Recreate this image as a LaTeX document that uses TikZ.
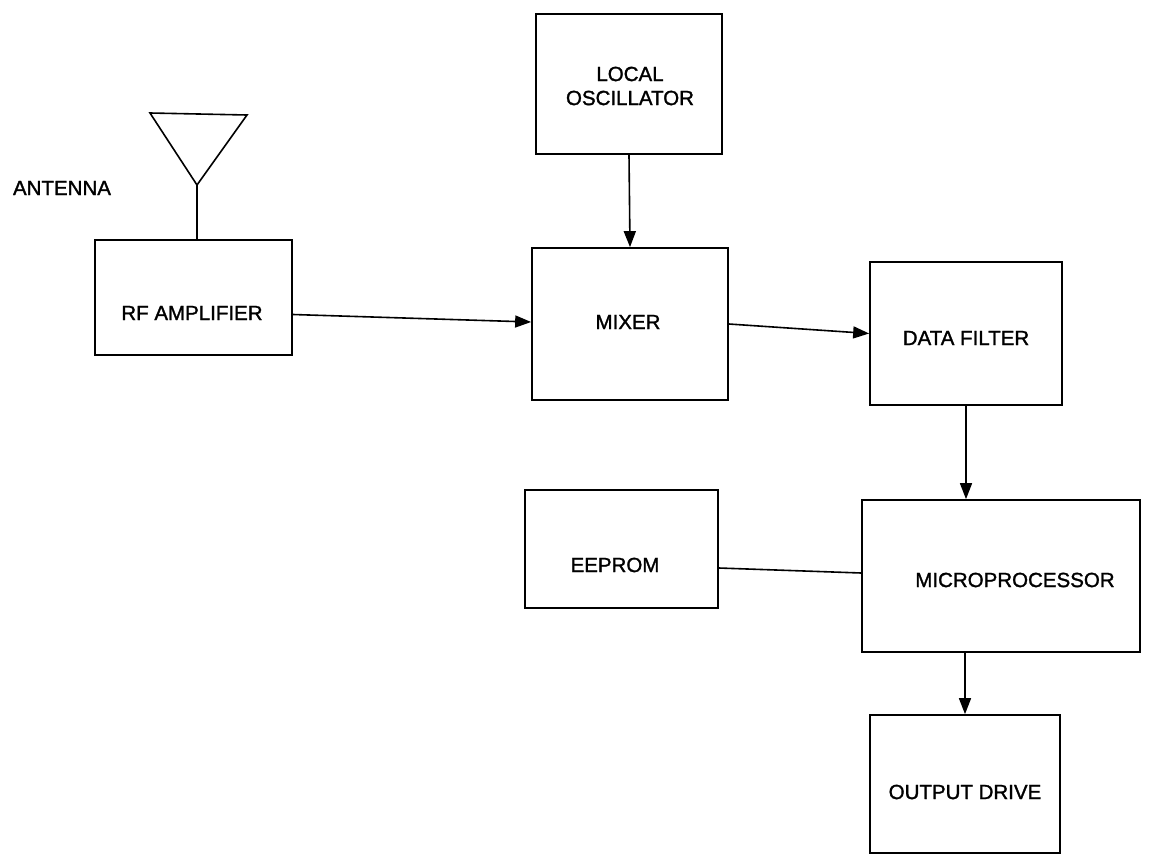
\documentclass[tikz,border=0pt]{standalone}
\usepackage{fontspec}
\setmainfont{Liberation Sans}
\newfontfamily\scanfont[FakeBold=1.4]{Liberation Sans}
\usetikzlibrary{arrows.meta,calc}
\begin{document}
\begin{tikzpicture}[x=1pt,y=-1pt,
  blk/.style={draw=black,line width=1.7pt,inner sep=0pt},
  lbl/.style={font=\scanfont\fontsize{20.5}{24}\selectfont,align=center,inner sep=0pt,text=black},
  wire/.style={line width=1.6pt,draw=black},
  arr/.style={wire,-{Triangle[length=16pt,width=12pt]}}]
\useasboundingbox[fill=white] (0,0) rectangle (1171,865);
% boxes
\node[blk,minimum width=186pt,minimum height=140pt] (lo) at (629,84) {};
\node[blk,minimum width=197pt,minimum height=115pt] (rf) at (193.5,297.5) {};
\node[blk,minimum width=196pt,minimum height=152pt] (mix) at (630,324) {};
\node[blk,minimum width=192pt,minimum height=143pt] (df) at (966,333.5) {};
\node[blk,minimum width=193pt,minimum height=118pt] (ee) at (621.5,549) {};
\node[blk,minimum width=278pt,minimum height=152pt] (mp) at (1001,576) {};
\node[blk,minimum width=190pt,minimum height=138pt] (od) at (965,784) {};
% labels
\node[lbl] (tlo) at (630,86) {LOCAL\\OSCILLATOR};
\node[lbl] (trf) at (192,313) {RF AMPLIFIER};
\node[lbl] (tmix) at (628,322) {MIXER};
\node[lbl] (tdf) at (966,338) {DATA FILTER};
\node[lbl] (tee) at (615,565) {EEPROM};
\node[lbl] (tmp) at (1015,580) {MICROPROCESSOR};
\node[lbl] (tod) at (965,792) {OUTPUT DRIVE};
\node[lbl] (tant) at (62,188) {ANTENNA};
% antenna
\coordinate (ant) at (197,185);
\draw[wire,line join=miter] (150,113) -- (247,115) -- (ant) -- cycle;
\draw[wire] (ant) -- (ant |- rf.north);
% connectors
\draw[arr] (lo.south) -- (mix.north);
\draw[arr] ($(rf.east)+(0,17)$) -- ($(mix.west)+(0,-2)$);
\draw[arr] (mix.east) -- (df.west);
\draw[arr] (df.south) -- (df.south |- mp.north);
\draw[wire] ($(ee.east)+(0,19)$) -- ($(mp.west)+(0,-3)$);
\draw[arr] (od.north |- mp.south) -- (od.north);
\end{tikzpicture}
\end{document}
